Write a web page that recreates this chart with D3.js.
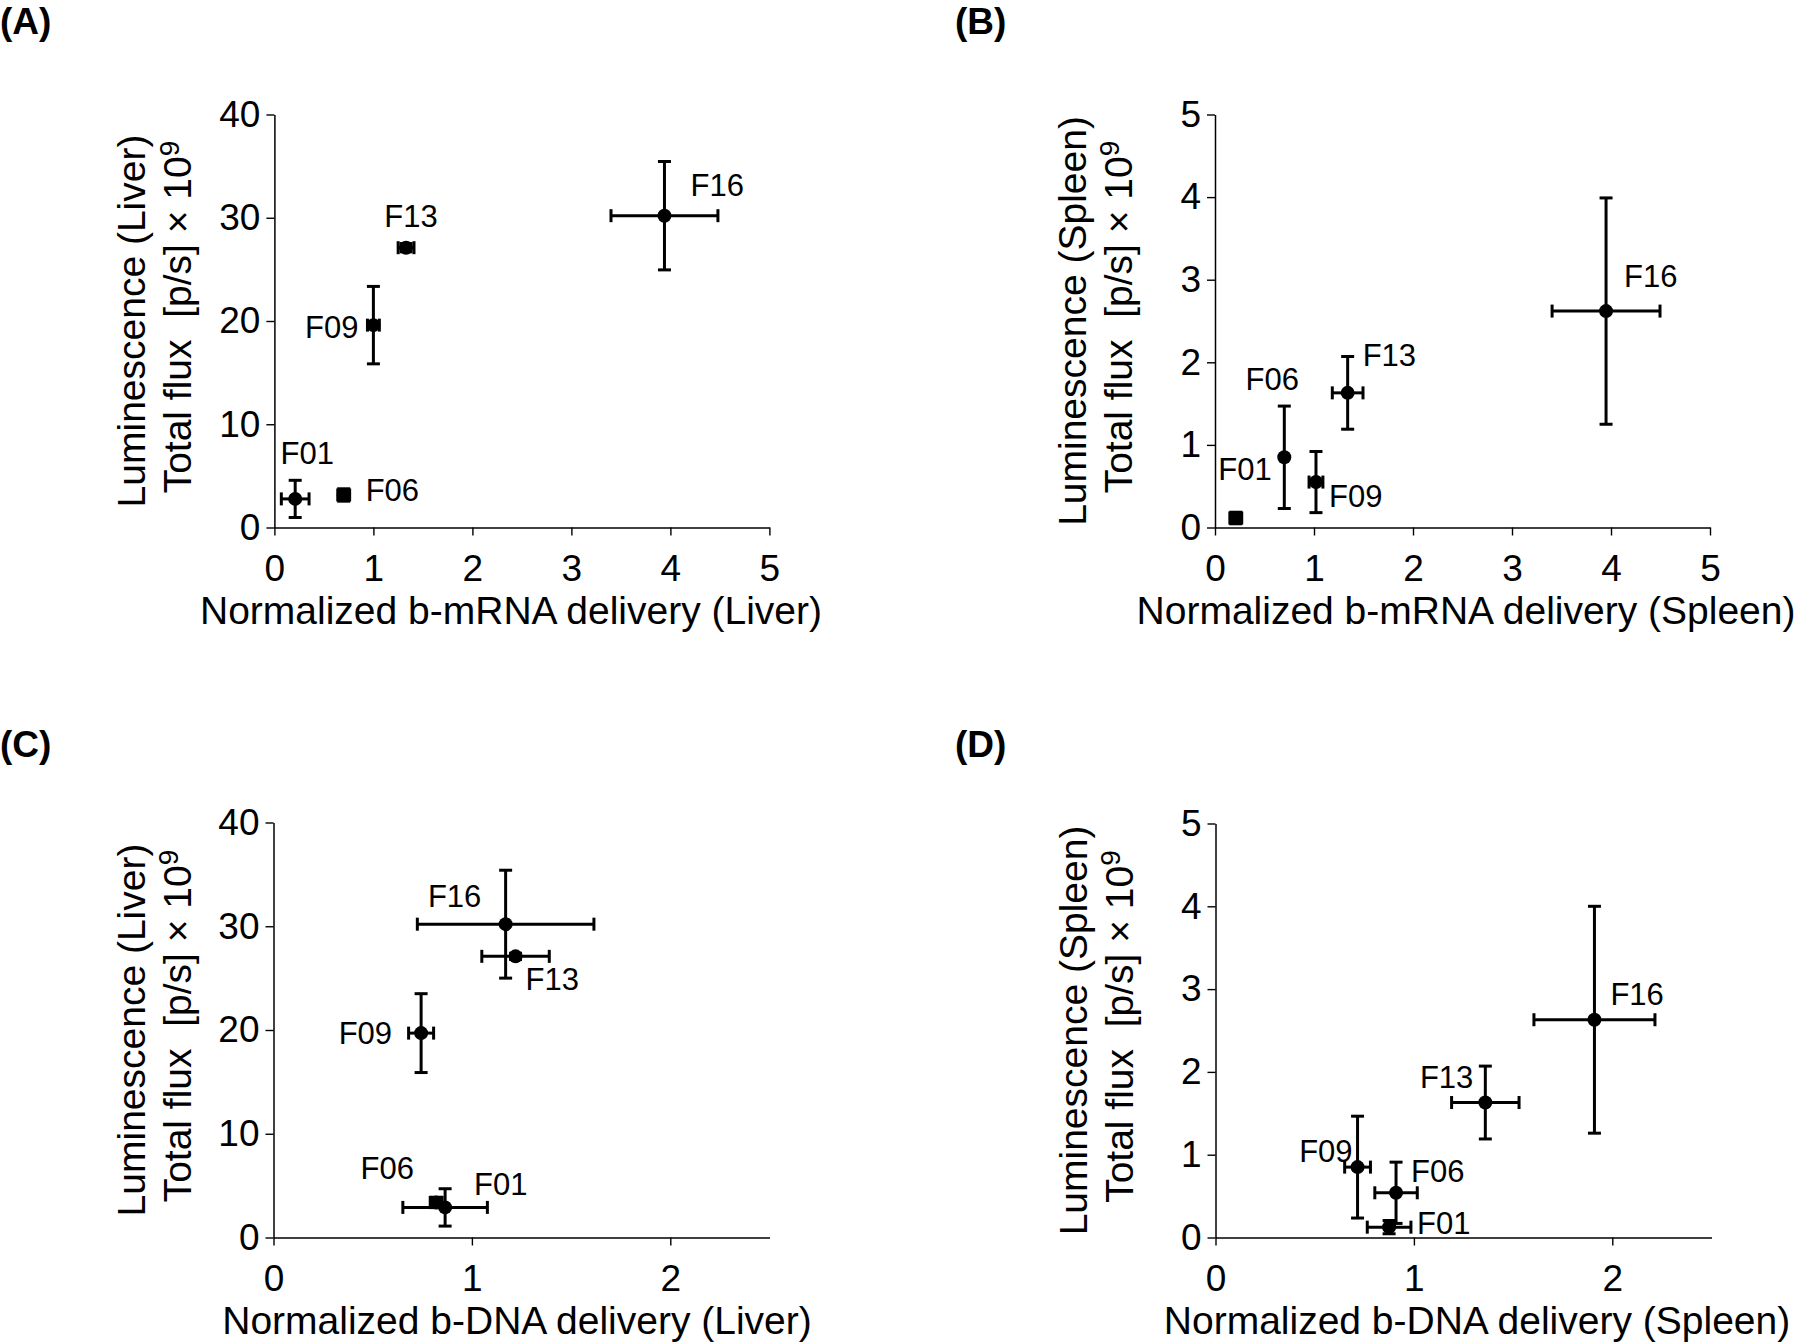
<!DOCTYPE html>
<html>
<head>
<meta charset="utf-8">
<script src="https://cdn.jsdelivr.net/npm/d3@7"></script>
<style>
  html, body { margin: 0; padding: 0; background: #fff; }
  svg { display: block; }
  text { font-family: "Liberation Sans", Arial, Helvetica, sans-serif; fill: #000; }
</style>
</head>
<body>
<svg id="chart" width="1800" height="1344"></svg>
<script>
// ---------------- DATA ----------------
const formulations = ["F01", "F06", "F09", "F13", "F16"];

// (A) Normalized b-mRNA delivery (Liver) vs Luminescence (Liver)
const mrnaLiverX      = [0.21, 0.70, 1.00, 1.33, 3.94];
const mrnaLiverXErr   = [0.14, 0.06, 0.06, 0.08, 0.54];
const lumLiverA       = [2.77, 3.15, 19.6, 27.1, 30.2];
const lumLiverAErr    = [1.80, 0.60, 3.75, 0.40, 5.25];

// (B) Normalized b-mRNA delivery (Spleen) vs Luminescence (Spleen)
const mrnaSpleenX     = [0.21, 0.70, 1.02, 1.34, 3.95];
const mrnaSpleenXErr  = [0.06, 0.00, 0.07, 0.155, 0.545];
const lumSpleenB      = [0.115, 0.85, 0.55, 1.63, 2.62];
const lumSpleenBErr   = [0.07, 0.62, 0.37, 0.44, 1.37];

// (C) Normalized b-DNA delivery (Liver) vs Luminescence (Liver)
const dnaLiverX       = [0.865, 0.82, 0.744, 1.22, 1.17];
const dnaLiverXErr    = [0.213, 0.03, 0.063, 0.17, 0.445];
const lumLiverC       = [2.9, 3.38, 19.7, 27.1, 30.2];
const lumLiverCErr    = [1.80, 0.50, 3.80, 0.30, 5.20];

// (D) Normalized b-DNA delivery (Spleen) vs Luminescence (Spleen)
const dnaSpleenX      = [0.875, 0.91, 0.716, 1.36, 1.91];
const dnaSpleenXErr   = [0.11, 0.107, 0.065, 0.17, 0.305];
const lumSpleenD      = [0.125, 0.54, 0.85, 1.63, 2.63];
const lumSpleenDErr   = [0.08, 0.37, 0.615, 0.44, 1.37];

// Tick values
const xTicksMrna   = [0, 1, 2, 3, 4, 5];
const xTicksDna    = [0, 1, 2];
const yTicksLiver  = [0, 10, 20, 30, 40];
const yTicksSpleen = [0, 1, 2, 3, 4, 5];

// Axis titles
const xTitles = [
  "Normalized b-mRNA delivery (Liver)",
  "Normalized b-mRNA delivery (Spleen)",
  "Normalized b-DNA delivery (Liver)",
  "Normalized b-DNA delivery (Spleen)"
];
const yTitleLine1 = ["Luminescence (Liver)", "Luminescence (Spleen)", "Luminescence (Liver)", "Luminescence (Spleen)"];
const panelLetters = ["(A)", "(B)", "(C)", "(D)"];

// ---------------- LAYOUT ----------------
// label placement: [anchor, dx, dy] relative to each point (order = formulations)
const labelPlacement = [
  [["middle", 12, -35], ["start", 22, 6], ["end", -15, 13], ["middle", 5, -21], ["start", 26, -20]],
  [["end", 36, -38], ["middle", -12, -67], ["start", 13, 25], ["start", 15, -27], ["start", 18, -24]],
  [["start", 29, -12], ["middle", -49, -23], ["end", -29, 11], ["start", 10, 34], ["middle", -51, -17]],
  [["start", 28, 7], ["start", 15, -11], ["end", -5, -5], ["end", -12, -15], ["start", 16, -15]]
];

const panels = [
  { x0: 274.4, x1: 769.4, y0: 114.5, y1: 527.5, xDomain: [0, 5], yDomain: [0, 40],
    xTicks: xTicksMrna, yTicks: yTicksLiver, xs: mrnaLiverX, xe: mrnaLiverXErr, ys: lumLiverA, ye: lumLiverAErr,
    letterX: 0, letterY: 34, xTitleX: 511 },
  { x0: 1215, x1: 1710, y0: 114.5, y1: 527.5, xDomain: [0, 5], yDomain: [0, 5],
    xTicks: xTicksMrna, yTicks: yTicksSpleen, xs: mrnaSpleenX, xe: mrnaSpleenXErr, ys: lumSpleenB, ye: lumSpleenBErr,
    letterX: 955, letterY: 34, xTitleX: 1466 },
  { x0: 273.5, x1: 769.5, y0: 822.5, y1: 1237.5, xDomain: [0, 2.5], yDomain: [0, 40],
    xTicks: xTicksDna, yTicks: yTicksLiver, xs: dnaLiverX, xe: dnaLiverXErr, ys: lumLiverC, ye: lumLiverCErr,
    letterX: 0, letterY: 757, xTitleX: 517 },
  { x0: 1215.5, x1: 1711.5, y0: 823.5, y1: 1237.5, xDomain: [0, 2.5], yDomain: [0, 5],
    xTicks: xTicksDna, yTicks: yTicksSpleen, xs: dnaSpleenX, xe: dnaSpleenXErr, ys: lumSpleenD, ye: lumSpleenDErr,
    letterX: 955, letterY: 757, xTitleX: 1477 }
];

const svg = d3.select("#chart");
const CAP = 6.5;

panels.forEach((p, pi) => {
  const x = d3.scaleLinear().domain(p.xDomain).range([p.x0, p.x1]);
  const y = d3.scaleLinear().domain(p.yDomain).range([p.y1, p.y0]);
  const g = svg.append("g");

  // panel letter
  svg.append("text")
    .attr("x", p.letterX).attr("y", p.letterY)
    .style("font-size", "37px").style("font-weight", "bold")
    .text(panelLetters[pi]);

  // axes
  const xAxis = d3.axisBottom(x).tickValues(p.xTicks).tickFormat(d3.format("d"))
    .tickSize(8).tickSizeOuter(0).tickPadding(19);
  const yAxis = d3.axisLeft(y).tickValues(p.yTicks).tickFormat(d3.format("d"))
    .tickSize(8).tickSizeOuter(0).tickPadding(6);

  const gx = g.append("g").attr("transform", `translate(0,${p.y1})`).call(xAxis);
  const gy = g.append("g").attr("transform", `translate(${p.x0},0)`).call(yAxis);
  [gx, gy].forEach(a => {
    a.selectAll("path.domain").attr("stroke", "#000").attr("stroke-width", 1.5);
    a.selectAll(".tick line").attr("stroke", "#000").attr("stroke-width", 1.4);
    a.selectAll(".tick text")
      .style("font-family", '"Liberation Sans", Arial, sans-serif')
      .style("font-size", "37px").attr("fill", "#000");
  });

  // x title
  g.append("text")
    .attr("x", p.xTitleX).attr("y", p.y1 + 96)
    .attr("text-anchor", "middle")
    .style("font-size", "39px")
    .text(xTitles[pi]);

  // y title (two lines)
  const yc = (p.y0 + p.y1) / 2;
  g.append("text")
    .attr("transform", `translate(${p.x0 - 143},${yc}) rotate(-90)`)
    .attr("text-anchor", "middle").attr("dy", "0.36em")
    .style("font-size", "39px")
    .text(yTitleLine1[pi]);
  const t2 = g.append("text")
    .attr("transform", `translate(${p.x0 - 97},${yc - 4}) rotate(-90)`)
    .attr("text-anchor", "middle").attr("dy", "0.36em")
    .style("font-size", "39px");
  t2.append("tspan").text("Total flux\u00A0\u00A0[p/s] \u00D7 10");
  t2.append("tspan").attr("dy", "-0.45em").style("font-size", "28px").text("9");

  // data
  const pts = formulations.map((name, i) => ({
    name, x: p.xs[i], xe: p.xe[i], y: p.ys[i], ye: p.ye[i], lab: labelPlacement[pi][i]
  }));

  const eb = g.append("g").attr("stroke", "#000").attr("stroke-width", 3).attr("fill", "none");
  pts.forEach(d => {
    const cx = x(d.x), cy = y(d.y);
    if (d.ye > 0) {
      const yt = y(d.y + d.ye), yb = y(d.y - d.ye);
      eb.append("line").attr("x1", cx).attr("x2", cx).attr("y1", yt).attr("y2", yb);
      eb.append("line").attr("x1", cx - CAP).attr("x2", cx + CAP).attr("y1", yt).attr("y2", yt);
      eb.append("line").attr("x1", cx - CAP).attr("x2", cx + CAP).attr("y1", yb).attr("y2", yb);
    }
    if (d.xe > 0) {
      const xl = x(d.x - d.xe), xr = x(d.x + d.xe);
      eb.append("line").attr("x1", xl).attr("x2", xr).attr("y1", cy).attr("y2", cy);
      eb.append("line").attr("x1", xl).attr("x2", xl).attr("y1", cy - CAP).attr("y2", cy + CAP);
      eb.append("line").attr("x1", xr).attr("x2", xr).attr("y1", cy - CAP).attr("y2", cy + CAP);
    }
  });

  g.selectAll("circle.pt").data(pts).join("circle")
    .attr("class", "pt")
    .attr("cx", d => x(d.x)).attr("cy", d => y(d.y)).attr("r", 7)
    .attr("fill", "#000");

  g.selectAll("text.lab").data(pts).join("text")
    .attr("class", "lab")
    .attr("x", d => x(d.x) + d.lab[1])
    .attr("y", d => y(d.y) + d.lab[2])
    .attr("text-anchor", d => d.lab[0])
    .style("font-size", "31px")
    .text(d => d.name);
});
</script>
</body>
</html>
